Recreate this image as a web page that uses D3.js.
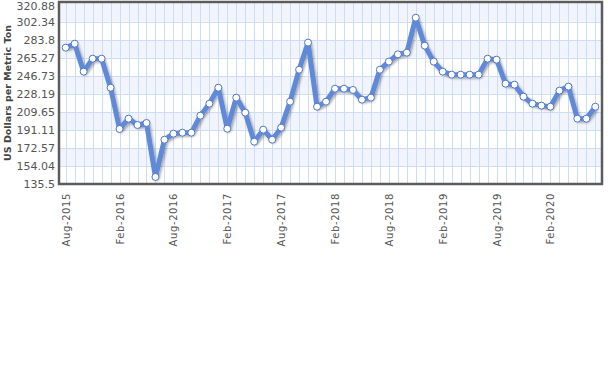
<!DOCTYPE html>
<html>
<head>
<meta charset="utf-8">
<script src="https://cdn.jsdelivr.net/npm/d3@7"></script>
<style>
  body { margin: 0; background: #fff; }
  svg { display: block; }
</style>
</head>
<body>
<script>
// monthly prices, Aug-2015 .. Jul-2020
var prices = [275.5, 279.6, 250.9, 264.2, 264.2, 234.4, 192.0, 202.6, 196.1, 198.2,
  142.7, 181.0, 187.2, 188.2, 188.2, 205.7, 218.0, 234.4, 192.3, 224.2,
  208.8, 179.0, 191.3, 181.0, 193.4, 220.1, 252.9, 280.7, 214.9, 220.1,
  233.4, 233.4, 232.1, 222.1, 224.2, 252.9, 261.2, 268.7, 270.4, 306.3,
  277.6, 261.2, 250.9, 247.8, 247.8, 247.8, 247.8, 264.2, 263.2, 238.5,
  237.5, 225.2, 218.0, 216.0, 214.9, 231.4, 235.5, 202.6, 202.6, 214.9];
var yTicks = [135.5, 154.04, 172.57, 191.11, 209.65, 228.19, 246.73, 265.27, 283.8, 302.34, 320.88];
var xTickLabels = ["Aug-2015", "Feb-2016", "Aug-2016", "Feb-2017", "Aug-2017", "Feb-2018",
  "Aug-2018", "Feb-2019", "Aug-2019", "Feb-2020"];
var yTitle = "US Dollars per Metric Ton";

var fmt = d3.utcFormat("%b-%Y");
var months = d3.utcMonth.range(new Date(Date.UTC(2015, 7, 1)), new Date(Date.UTC(2020, 7, 1))).map(fmt);

var W = 608, H = 375;
var box = {left: 59, right: 602, top: 2, bottom: 184};

var svg = d3.select("body").append("svg").attr("width", W).attr("height", H);

var x = d3.scalePoint().domain(months).range([65.7, 595.3]);
var y = d3.scaleLinear().domain([135.5, 320.88]).range([box.bottom, 3.5]);

var defs = svg.append("defs");
var f = defs.append("filter").attr("id", "shadow").attr("x", "-10%").attr("y", "-10%").attr("width", "120%").attr("height", "130%");
f.append("feDropShadow").attr("dx", 1.5).attr("dy", 1.5).attr("stdDeviation", 1.2)
  .attr("flood-color", "#000").attr("flood-opacity", 0.35);

// alternating bands
var bands = d3.pairs(yTicks);
svg.append("g").selectAll("rect").data(bands).join("rect")
  .attr("x", box.left).attr("width", box.right - box.left)
  .attr("y", function(d) { return y(d[1]); })
  .attr("height", function(d) { return y(d[0]) - y(d[1]); })
  .attr("fill", function(d, i) { return i % 2 ? "#f1f4fc" : "#ffffff"; });

// grid
var grid = svg.append("g").attr("stroke", "#cddcf7").attr("stroke-width", 1);
grid.selectAll("line.v").data(months).join("line").attr("class", "v")
  .attr("x1", function(d) { return Math.round(x(d)) + 0.5; })
  .attr("x2", function(d) { return Math.round(x(d)) + 0.5; })
  .attr("y1", box.top).attr("y2", box.bottom);
grid.selectAll("line.h").data(yTicks.slice(1, -1)).join("line").attr("class", "h")
  .attr("x1", box.left).attr("x2", box.right)
  .attr("y1", function(d) { return Math.round(y(d)) + 0.5; })
  .attr("y2", function(d) { return Math.round(y(d)) + 0.5; });

// y axis labels
var yAxis = d3.axisLeft(y).tickValues(yTicks).tickSize(0).tickPadding(3)
  .tickFormat(function(d) { return String(d); });
svg.append("g").attr("transform", "translate(" + (box.left - 1) + ",0)").call(yAxis)
  .call(function(g) { g.select(".domain").remove(); })
  .selectAll("text").attr("fill", "#555")
  .attr("dy", function(d, i) { return i === yTicks.length - 1 ? "0.55em" : "0.32em"; })
  .style("font-family", "Verdana, 'DejaVu Sans', sans-serif").style("font-size", "11px");

// x axis labels
var xAxis = d3.axisBottom(x).tickValues(xTickLabels).tickSize(0).tickPadding(0);
svg.append("g").attr("transform", "translate(0," + (box.bottom + 1) + ")").call(xAxis)
  .call(function(g) { g.select(".domain").remove(); })
  .selectAll("text")
  .attr("transform", "rotate(-90)")
  .attr("text-anchor", "end")
  .attr("x", -8).attr("y", 0).attr("dy", "0.35em")
  .attr("fill", "#555")
  .style("font-family", "Verdana, 'DejaVu Sans', sans-serif")
  .style("font-size", "10px")
  .style("letter-spacing", "0.6px");

// y title
svg.append("text")
  .attr("transform", "translate(8," + (box.top + box.bottom) / 2 + ") rotate(-90)")
  .attr("text-anchor", "middle").attr("dy", "0.35em")
  .attr("fill", "#444").style("font-weight", "bold")
  .style("font-family", "Verdana, 'DejaVu Sans', sans-serif").style("font-size", "9.5px")
  .text(yTitle);

// line
var line = d3.line()
  .x(function(d, i) { return x(months[i]); })
  .y(function(d) { return y(d); });
svg.append("path").datum(prices)
  .attr("d", line).attr("fill", "none")
  .attr("stroke", "#6189d8").attr("stroke-width", 5).attr("stroke-linejoin", "round")
  .attr("filter", "url(#shadow)");

svg.append("g").selectAll("circle").data(prices).join("circle")
  .attr("cx", function(d, i) { return x(months[i]); })
  .attr("cy", function(d) { return y(d); })
  .attr("r", 3.5).attr("fill", "#fff").attr("stroke", "#4f78c8").attr("stroke-width", 1);

// frame
svg.append("rect")
  .attr("x", box.left).attr("y", box.top)
  .attr("width", box.right - box.left).attr("height", box.bottom - box.top)
  .attr("fill", "none").attr("stroke", "#5c5c5c").attr("stroke-width", 2.5);
</script>
</body>
</html>
